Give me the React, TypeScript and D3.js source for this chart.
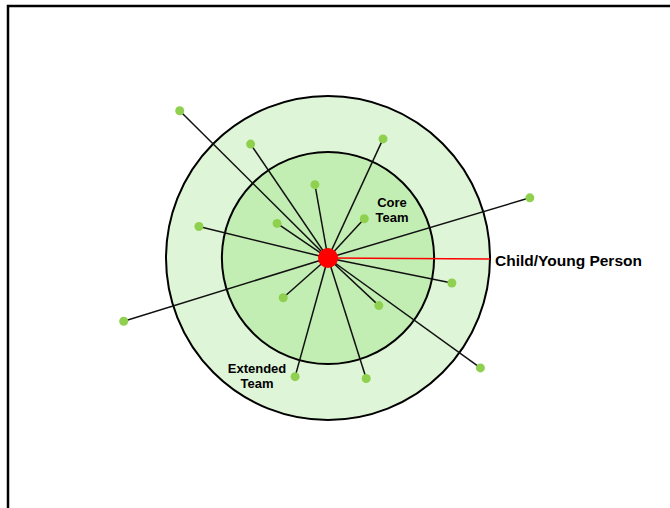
import React, { useEffect, useRef } from "react";
import * as d3 from "d3";

// team members: angle in degrees (counter-clockwise from east), distance relative to outer ring radius
const memberAngles = [135.2, 124.2, 65.2, 16.6, 100.1, 47.3, 166.3, 145.8, 221.6, 316.9, 348.6, 197.2, 324.2, 254.5, 287.6];
const memberDistances = [1.29, 0.85, 0.81, 1.30, 0.46, 0.33, 0.82, 0.38, 0.37, 0.43, 0.78, 1.32, 1.16, 0.76, 0.78];

const rings = [
  { name: "Extended Team", radius: 1, fill: "#dff5d7" },
  { name: "Core Team", radius: 0.655, fill: "#c3eeb3" },
];

const centreLabel = "Child/Young Person";

const width = 670;
const height = 508;

export default function App() {
  const ref = useRef<SVGSVGElement>(null);

  useEffect(() => {
    const svg = d3.select(ref.current);
    svg.selectAll("*").remove();

    const cx = 328;
    const cy = 258;
    const r = d3.scaleLinear().domain([0, 1]).range([0, 162]);

    // frame
    svg
      .append("rect")
      .attr("x", 8)
      .attr("y", 6)
      .attr("width", width + 20)
      .attr("height", height + 20)
      .attr("fill", "white")
      .attr("stroke", "black")
      .attr("stroke-width", 2.5);

    const g = svg.append("g").attr("transform", `translate(${cx},${cy})`);

    g.selectAll("circle.ring")
      .data(rings)
      .join("circle")
      .attr("class", "ring")
      .attr("r", (d) => r(d.radius))
      .attr("fill", (d) => d.fill)
      .attr("stroke", "black")
      .attr("stroke-width", 2);

    const members = memberAngles.map((a, i) => {
      const rad = (a * Math.PI) / 180;
      return { x: Math.cos(rad) * r(memberDistances[i]), y: -Math.sin(rad) * r(memberDistances[i]) };
    });

    g.selectAll("line.spoke")
      .data(members)
      .join("line")
      .attr("class", "spoke")
      .attr("x1", 0)
      .attr("y1", 0)
      .attr("x2", (d) => d.x)
      .attr("y2", (d) => d.y)
      .attr("stroke", "#111")
      .attr("stroke-width", 1.5);

    g.selectAll("circle.member")
      .data(members)
      .join("circle")
      .attr("class", "member")
      .attr("cx", (d) => d.x)
      .attr("cy", (d) => d.y)
      .attr("r", 4.5)
      .attr("fill", "#8fd14f");

    // red pointer to label
    g.append("line")
      .attr("x1", 0)
      .attr("y1", 0)
      .attr("x2", 162)
      .attr("y2", 1)
      .attr("stroke", "red")
      .attr("stroke-width", 1.5);

    g.append("circle").attr("r", 10).attr("fill", "red");

    const font = "'Liberation Sans', Arial, sans-serif";

    g.append("text")
      .attr("x", 167)
      .attr("y", 8)
      .attr("font-family", font)
      .attr("font-weight", "bold")
      .attr("font-size", 15.5)
      .attr("fill", "black")
      .text(centreLabel);

    const ringLabels = [
      { words: rings[1].name.split(" "), x: 64, y: -51 },
      { words: rings[0].name.split(" "), x: -71, y: 115 },
    ];

    ringLabels.forEach((l) => {
      const t = g
        .append("text")
        .attr("text-anchor", "middle")
        .attr("font-family", font)
        .attr("font-weight", "bold")
        .attr("font-size", 13)
        .attr("fill", "black");
      l.words.forEach((w, i) => {
        t.append("tspan")
          .attr("x", l.x)
          .attr("y", l.y + i * 15)
          .text(w);
      });
    });
  }, []);

  return (
    <svg
      ref={ref}
      width={width}
      height={height}
      style={{ position: "absolute", left: 0, top: 0, display: "block" }}
    />
  );
}
